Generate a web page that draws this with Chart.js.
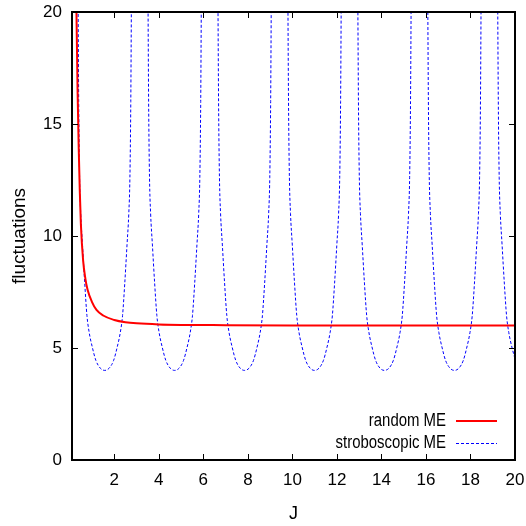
<!DOCTYPE html>
<html>
<head>
<meta charset="utf-8">
<script src="https://cdn.jsdelivr.net/npm/chart.js@4.4.1/dist/chart.umd.min.js"></script>
<style>
  html, body { margin: 0; padding: 0; background: #ffffff; }
  #wrap { width: 526px; height: 526px; }
</style>
</head>
<body>
<div id="wrap"><canvas id="c" width="526" height="526"></canvas></div>
<script>
// ---- data ----
const xTickValues = [2, 4, 6, 8, 10, 12, 14, 16, 18, 20];
const yTickValues = [0, 5, 10, 15, 20];
const seriesNames = ['random ME', 'stroboscopic ME'];
const axisTitles = { x: 'J', y: 'fluctuations' };

const J_random = [0.25, 0.3, 0.35, 0.4, 0.45, 0.5, 0.6, 0.7, 0.8, 1.0, 1.2, 1.5, 2.0, 2.5, 3.0, 4.0, 5.0, 7.0, 10.0, 15.0, 20.0];
const randomME = [25, 20, 16.5, 14, 12, 10.5, 8.9, 8.1, 7.6, 7.05, 6.7, 6.45, 6.25, 6.15, 6.1, 6.05, 6.03, 6.02, 6.01, 6.0, 6.0];

const J_strobo = [
  0.271, 0.371, 0.401, 0.441, 0.491, 0.571, 0.671, 0.771, 0.871, 1.021, 1.171, 1.371, 1.571, 1.771, 1.971, 2.121, 2.271, 2.371, 2.471, 2.571, 2.651, 2.701, 2.741, 2.771, 2.871,
  3.412, 3.512, 3.542, 3.582, 3.632, 3.712, 3.812, 3.912, 4.012, 4.162, 4.312, 4.512, 4.712, 4.912, 5.112, 5.262, 5.412, 5.512, 5.612, 5.712, 5.792, 5.842, 5.882, 5.912, 6.012,
  6.554, 6.654, 6.684, 6.724, 6.774, 6.854, 6.954, 7.054, 7.154, 7.304, 7.454, 7.654, 7.854, 8.054, 8.254, 8.404, 8.554, 8.654, 8.754, 8.854, 8.934, 8.984, 9.024, 9.054, 9.154,
  9.696, 9.796, 9.826, 9.866, 9.916, 9.996, 10.096, 10.196, 10.296, 10.446, 10.596, 10.796, 10.996, 11.196, 11.396, 11.546, 11.696, 11.796, 11.896, 11.996, 12.076, 12.126, 12.166, 12.196, 12.296,
  12.837, 12.937, 12.967, 13.007, 13.057, 13.137, 13.237, 13.337, 13.437, 13.587, 13.737, 13.937, 14.137, 14.337, 14.537, 14.687, 14.837, 14.937, 15.037, 15.137, 15.217, 15.267, 15.307, 15.337, 15.437,
  15.979, 16.079, 16.109, 16.149, 16.199, 16.279, 16.379, 16.479, 16.579, 16.729, 16.879, 17.079, 17.279, 17.479, 17.679, 17.829, 17.979, 18.079, 18.179, 18.279, 18.359, 18.409, 18.449, 18.479, 18.579,
  19.120, 19.220, 19.250, 19.290, 19.340, 19.420, 19.520, 19.620, 19.720, 19.870, 20.020
];
const stroboME = [
  40, 21, 16, 12.6, 11.0, 9.6, 7.9, 6.45, 5.7, 5.0, 4.45, 4.1, 4.0, 4.1, 4.45, 5.0, 5.7, 6.45, 7.9, 9.6, 11.0, 12.6, 16, 21, 40,
  40, 21, 16, 12.6, 11.0, 9.6, 7.9, 6.45, 5.7, 5.0, 4.45, 4.1, 4.0, 4.1, 4.45, 5.0, 5.7, 6.45, 7.9, 9.6, 11.0, 12.6, 16, 21, 40,
  40, 21, 16, 12.6, 11.0, 9.6, 7.9, 6.45, 5.7, 5.0, 4.45, 4.1, 4.0, 4.1, 4.45, 5.0, 5.7, 6.45, 7.9, 9.6, 11.0, 12.6, 16, 21, 40,
  40, 21, 16, 12.6, 11.0, 9.6, 7.9, 6.45, 5.7, 5.0, 4.45, 4.1, 4.0, 4.1, 4.45, 5.0, 5.7, 6.45, 7.9, 9.6, 11.0, 12.6, 16, 21, 40,
  40, 21, 16, 12.6, 11.0, 9.6, 7.9, 6.45, 5.7, 5.0, 4.45, 4.1, 4.0, 4.1, 4.45, 5.0, 5.7, 6.45, 7.9, 9.6, 11.0, 12.6, 16, 21, 40,
  40, 21, 16, 12.6, 11.0, 9.6, 7.9, 6.45, 5.7, 5.0, 4.45, 4.1, 4.0, 4.1, 4.45, 5.0, 5.7, 6.45, 7.9, 9.6, 11.0, 12.6, 16, 21, 40,
  40, 21, 16, 12.6, 11.0, 9.6, 7.9, 6.45, 5.7, 5.0, 4.45
];

// ---- chart ----
const FONT = "'Liberation Sans', Arial, sans-serif";
const toXY = (xs, ys) => xs.map((x, i) => ({ x: x, y: ys[i] }));

const framePlugin = {
  id: 'frame',
  afterDatasetsDraw(chart) {
    const { ctx, chartArea: a, scales } = chart;
    ctx.save();
    ctx.strokeStyle = '#000';
    ctx.lineWidth = 1;
    const tl = 6;
    ctx.beginPath();
    scales.x.ticks.forEach(t => {
      const px = Math.round(scales.x.getPixelForValue(t.value)) + 0.5;
      ctx.moveTo(px, a.bottom); ctx.lineTo(px, a.bottom - tl);
      ctx.moveTo(px, a.top); ctx.lineTo(px, a.top + tl);
    });
    scales.y.ticks.forEach(t => {
      const py = Math.round(scales.y.getPixelForValue(t.value)) + 0.5;
      ctx.moveTo(a.left, py); ctx.lineTo(a.left + tl, py);
      ctx.moveTo(a.right, py); ctx.lineTo(a.right - tl, py);
    });
    ctx.stroke();
    ctx.lineWidth = 2;
    ctx.strokeRect(a.left, a.top, a.right - a.left, a.bottom - a.top);
    ctx.restore();
  }
};

const legendPlugin = {
  id: 'innerLegend',
  afterDatasetsDraw(chart) {
    const { ctx } = chart;
    const textRight = 446, lineX0 = 456, lineX1 = 497;
    const rows = [421, 443];
    const squeeze = 0.83;
    ctx.save();
    chart.data.datasets.forEach((ds, i) => {
      const y = rows[i];
      ctx.save();
      ctx.translate(textRight, y);
      ctx.scale(squeeze, 1);
      ctx.font = '18px ' + FONT;
      ctx.textAlign = 'right';
      ctx.textBaseline = 'middle';
      ctx.fillStyle = '#000';
      ctx.fillText(ds.label, 0, 0);
      ctx.restore();
      ctx.strokeStyle = ds.borderColor;
      ctx.lineWidth = ds.borderWidth;
      ctx.setLineDash(ds.borderDash || []);
      ctx.beginPath();
      const yy = ds.borderWidth % 2 === 1 ? y + 0.5 : y;
      ctx.moveTo(lineX0, yy); ctx.lineTo(lineX1, yy);
      ctx.stroke();
    });
    ctx.restore();
  }
};

new Chart(document.getElementById('c'), {
  type: 'line',
  data: {
    datasets: [
      {
        label: seriesNames[0],
        data: toXY(J_random, randomME),
        borderColor: '#ff0000',
        borderWidth: 2,
        pointRadius: 0,
        cubicInterpolationMode: 'monotone',
        clip: 0,
        order: 1
      },
      {
        label: seriesNames[1],
        data: toXY(J_strobo, stroboME),
        borderColor: '#0000ff',
        borderWidth: 1,
        borderDash: [3, 2],
        pointRadius: 0,
        cubicInterpolationMode: 'monotone',
        clip: 0,
        order: 2
      }
    ]
  },
  options: {
    responsive: false,
    animation: false,
    events: [],
    layout: { padding: { left: 0, top: 12, right: 11, bottom: 0 } },
    plugins: { legend: { display: false }, tooltip: { enabled: false } },
    scales: {
      x: {
        type: 'linear',
        min: 0.1,
        max: 20,
        afterBuildTicks: s => { s.ticks = xTickValues.map(v => ({ value: v })); },
        afterFit: s => { s.height = 66; s.paddingLeft = 0; s.paddingRight = 0; },
        grid: { display: false, drawTicks: false },
        border: { display: false },
        ticks: { color: '#000', font: { family: FONT, size: 17 }, padding: 10, maxRotation: 0, autoSkip: false },
        title: { display: true, text: axisTitles.x, color: '#000', font: { family: FONT, size: 18 }, padding: { top: 0, bottom: 1 } }
      },
      y: {
        type: 'linear',
        min: 0,
        max: 20,
        afterBuildTicks: s => { s.ticks = yTickValues.map(v => ({ value: v })); },
        afterFit: s => { s.width = 72; s.paddingTop = 0; s.paddingBottom = 0; },
        grid: { display: false, drawTicks: false },
        border: { display: false },
        ticks: { color: '#000', font: { family: FONT, size: 17 }, padding: 10 },
        title: { display: true, text: axisTitles.y, color: '#000', font: { family: FONT, size: 19 }, padding: { top: 8, bottom: 0 } }
      }
    }
  },
  plugins: [framePlugin, legendPlugin]
});
</script>
</body>
</html>
